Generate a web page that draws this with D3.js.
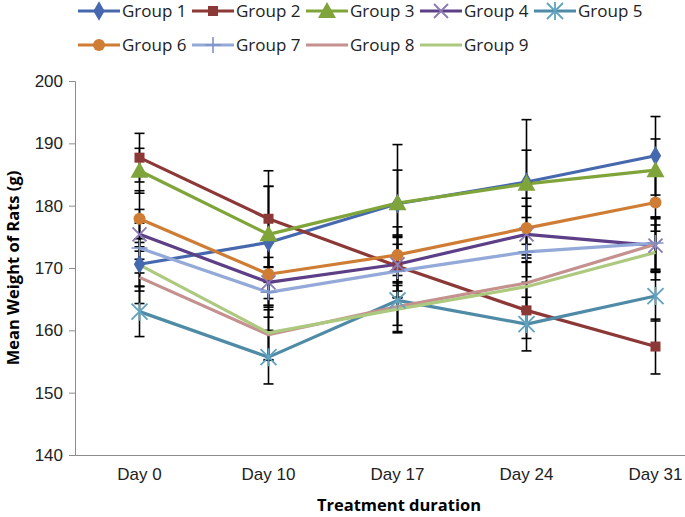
<!DOCTYPE html>
<html>
<head>
<meta charset="utf-8">
<script src="https://cdn.jsdelivr.net/npm/d3@7"></script>
<style>
  body { margin: 0; background: #fff; }
  svg { display: block; font-family: "Open Sans", "Noto Sans", sans-serif; }
</style>
</head>
<body>
<svg id="chart" width="685" height="517"></svg>
<script>
"use strict"

// data
var days = ["Day 0", "Day 10", "Day 17", "Day 24", "Day 31"];
var groups = ["Group 1", "Group 2", "Group 3", "Group 4", "Group 5", "Group 6", "Group 7", "Group 8", "Group 9"];

var group1 = [170.6, 174.1, 180.3, 183.8, 188.0];
var group2 = [187.7, 177.9, 170.3, 163.2, 157.4];
var group3 = [185.6, 175.4, 180.4, 183.5, 185.7];
var group4 = [175.4, 167.7, 170.6, 175.4, 173.6];
var group5 = [163.0, 155.7, 164.8, 161.0, 165.5];
var group6 = [177.9, 169.0, 172.1, 176.4, 180.5];
var group7 = [173.2, 166.1, 169.5, 172.6, 174.0];
var group8 = [168.5, 159.3, 163.8, 167.6, 173.8];
var group9 = [170.5, 159.6, 163.4, 167.0, 172.5];

var sd1 = [3.5, 9.0, 9.5, 10.0, 6.3];
var sd2 = [3.9, 7.7, 5.0, 4.5, 4.4];
var sd3 = [3.6, 7.7, 5.3, 5.4, 5.0];
var sd4 = [4.0, 4.0, 4.3, 4.5, 4.3];
var sd5 = [4.0, 4.3, 4.0, 4.3, 4.0];
var sd6 = [4.5, 5.0, 4.5, 4.8, 4.6];
var sd7 = [4.0, 4.0, 4.3, 4.0, 4.2];
var sd8 = [4.2, 4.0, 4.0, 4.5, 4.3];
var sd9 = [4.2, 4.4, 3.8, 4.0, 4.4];

var yTicks = [140, 150, 160, 170, 180, 190, 200];

var means = [group1, group2, group3, group4, group5, group6, group7, group8, group9];
var sds = [sd1, sd2, sd3, sd4, sd5, sd6, sd7, sd8, sd9];

var colors = ["#4668ae", "#8c3836", "#7fa53a", "#5c3f86", "#4f8ba6", "#cf7d34", "#93a9d8", "#c4918f", "#acc97f"];
var markerColors = ["#4668ae", "#8c3836", "#7fa53a", "#8a78b8", "#5fa3c0", "#cf7d34", "#7f94c8", null, null];
var markers = ["diamond", "square", "triangle", "x", "star", "circle", "plus", null, null];

var margin = { top: 81, left: 75 };
var svg = d3.select("#chart");

var xScale = d3.scaleBand()
    .domain(days)
    .range([75, 720])
    .padding(0);
var xc = function(d) { return xScale(d) + xScale.bandwidth() / 2; };

var yScale = d3.scaleLinear()
    .domain([140, 200])
    .range([455, 81]);

// axes
var yAxis = d3.axisLeft(yScale).tickValues(yTicks).tickSize(6).tickPadding(6);
var gy = svg.append("g")
    .attr("transform", "translate(" + margin.left + ",0)")
    .call(yAxis);
gy.select(".domain").attr("stroke", "#8c8c8c");
gy.selectAll(".tick line").attr("stroke", "#8c8c8c");
gy.selectAll(".tick text")
    .attr("fill", "#222")
    .style("font-size", "17px");

var xAxis = d3.axisBottom(xScale).tickSize(0).tickPadding(13);
var gx = svg.append("g")
    .attr("transform", "translate(0," + yScale(140) + ")")
    .call(xAxis);
gx.select(".domain").attr("stroke", "#8c8c8c");
gx.selectAll(".tick text")
    .attr("fill", "#222")
    .style("font-size", "17px");

svg.append("text")
    .attr("x", 399)
    .attr("y", 511)
    .attr("text-anchor", "middle")
    .style("font-size", "16.5px")
    .style("font-weight", "bold")
    .text("Treatment duration");

svg.append("text")
    .attr("transform", "translate(13," + ((yScale(140) + yScale(200)) / 2) + ") rotate(-90)")
    .attr("text-anchor", "middle")
    .attr("dy", "0.35em")
    .style("font-size", "16.5px")
    .style("font-weight", "bold")
    .text("Mean Weight of Rats (g)");

// error bars
var plot = svg.append("g");
var cap = 5;
means.forEach(function(vals, i) {
    var eb = plot.append("g").attr("class", "errbars");
    vals.forEach(function(v, j) {
        var x = xc(days[j]);
        var lo = yScale(v - sds[i][j]), hi = yScale(v + sds[i][j]);
        eb.append("line").attr("x1", x).attr("x2", x).attr("y1", lo).attr("y2", hi)
            .attr("stroke", "#000").attr("stroke-width", 1.6);
        eb.append("line").attr("x1", x - cap).attr("x2", x + cap).attr("y1", lo).attr("y2", lo)
            .attr("stroke", "#000").attr("stroke-width", 1.6);
        eb.append("line").attr("x1", x - cap).attr("x2", x + cap).attr("y1", hi).attr("y2", hi)
            .attr("stroke", "#000").attr("stroke-width", 1.6);
    });
});

var line = d3.line()
    .x(function(d, j) { return xc(days[j]); })
    .y(function(d) { return yScale(d); });

means.forEach(function(vals, i) {
    plot.append("path")
        .datum(vals)
        .attr("fill", "none")
        .attr("stroke", colors[i])
        .attr("stroke-width", 3.2)
        .attr("stroke-linejoin", "round")
        .attr("d", line);
});

function drawMarker(g, type, x, y, color) {
    if (!type) return;
    var s;
    if (type === "diamond") {
        g.append("path").attr("d", d3.symbol(d3.symbolDiamond, 110)())
            .attr("transform", "translate(" + x + "," + y + ")").attr("fill", color);
    } else if (type === "square") {
        g.append("rect").attr("x", x - 5).attr("y", y - 5).attr("width", 10).attr("height", 10).attr("fill", color);
    } else if (type === "triangle") {
        g.append("path").attr("d", "M0,-9L9,7L-9,7Z")
            .attr("transform", "translate(" + x + "," + y + ")").attr("fill", color);
    } else if (type === "circle") {
        g.append("circle").attr("cx", x).attr("cy", y).attr("r", 6).attr("fill", color);
    } else if (type === "x") {
        s = 7;
        g.append("path").attr("d", "M" + (-s) + "," + (-s) + "L" + s + "," + s + "M" + (-s) + "," + s + "L" + s + "," + (-s))
            .attr("transform", "translate(" + x + "," + y + ")")
            .attr("stroke", color).attr("stroke-width", 1.8).attr("fill", "none");
    } else if (type === "star") {
        s = 8;
        g.append("path").attr("d", "M" + (-s) + "," + (-s) + "L" + s + "," + s + "M" + (-s) + "," + s + "L" + s + "," + (-s) + "M0," + (-s - 1) + "L0," + (s + 1))
            .attr("transform", "translate(" + x + "," + y + ")")
            .attr("stroke", color).attr("stroke-width", 1.8).attr("fill", "none");
    } else if (type === "plus") {
        s = 8;
        g.append("path").attr("d", "M" + (-s) + ",0L" + s + ",0M0," + (-s) + "L0," + s)
            .attr("transform", "translate(" + x + "," + y + ")")
            .attr("stroke", color).attr("stroke-width", 1.6).attr("fill", "none");
    }
}

means.forEach(function(vals, i) {
    var mg = plot.append("g");
    vals.forEach(function(v, j) {
        drawMarker(mg, markers[i], xc(days[j]), yScale(v), markerColors[i]);
    });
});

// legend, two rows of five
var legend = svg.append("g").attr("class", "legend");
groups.forEach(function(name, i) {
    var row = Math.floor(i / 5), col = i % 5;
    var lx = 78 + col * 114, ly = row === 0 ? 11 : 45;
    var item = legend.append("g");
    item.append("line")
        .attr("x1", lx).attr("x2", lx + 42).attr("y1", ly).attr("y2", ly)
        .attr("stroke", colors[i]).attr("stroke-width", 3.2);
    drawMarker(item, markers[i], lx + 21, ly, markerColors[i]);
    item.append("text")
        .attr("x", lx + 44)
        .attr("y", ly)
        .attr("dy", "0.35em")
        .attr("fill", "#222")
        .style("font-size", "17px")
        .text(name);
});
</script>
</body>
</html>
